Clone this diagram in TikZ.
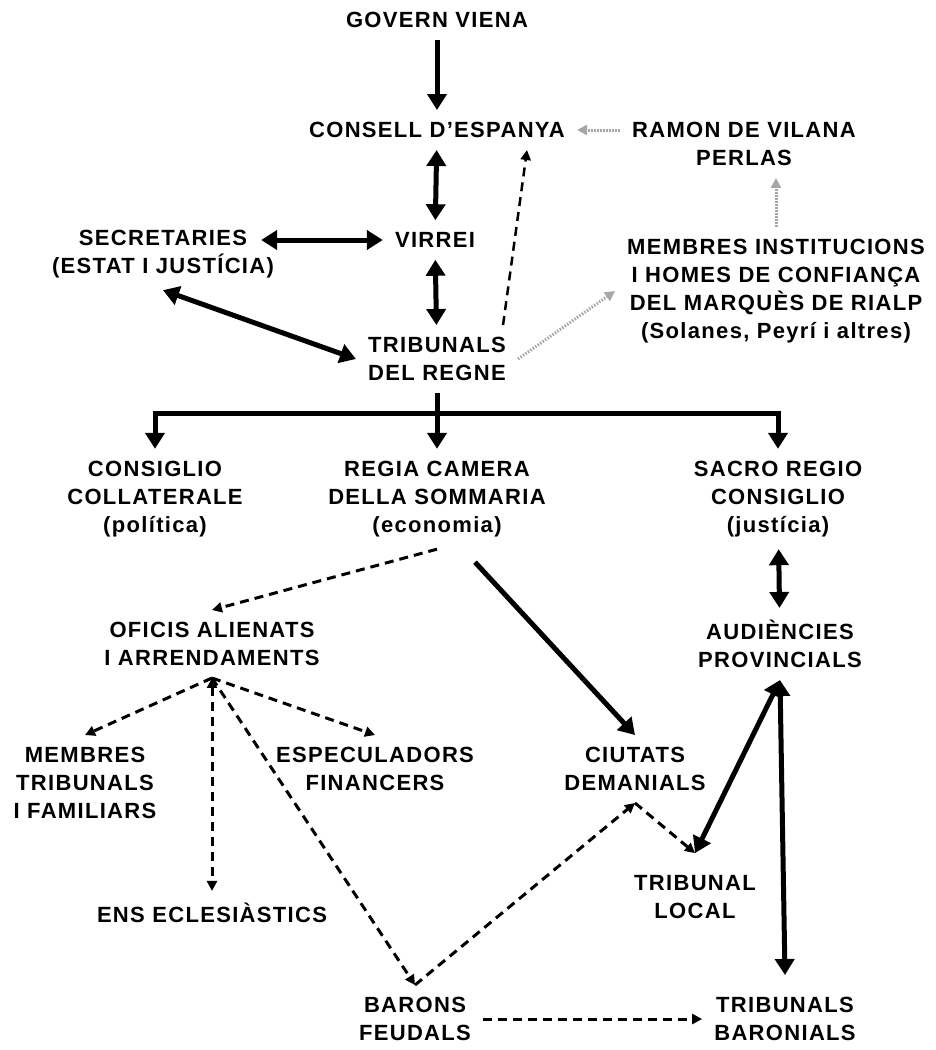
\documentclass[tikz,border=0pt]{standalone}
\usepackage{fontspec}
\setmainfont[LetterSpace=6]{Liberation Sans}
\usetikzlibrary{arrows.meta,calc}

\begin{document}
\begin{tikzpicture}[x=1pt,y=-1pt,
                    lbl/.style={align=center,inner sep=12pt,font=\fontsize{22}{28}\selectfont\bfseries},
                    gran/.tip={Triangle[length=16pt,width=19pt]},
                    petit/.tip={Triangle[length=10pt,width=10pt]},
                    fort/.style={line width=5pt,-gran},
                    fortdoble/.style={line width=5pt,gran-gran},
                    discont/.style={line width=3pt,dash pattern=on 9pt off 6pt,-petit},
                    puntejat/.style={color=gray!70,line width=3pt,dash pattern=on 1.5pt off 1.5pt,-petit}]
    \useasboundingbox (0,0) rectangle (935,1050);

    \node[lbl] (govern) at (437,20) {GOVERN VIENA};
    \node[lbl] (consell) at (437,130) {CONSELL D'ESPANYA};
    \node[lbl] (ramon) at (744,144) {RAMON DE VILANA\\PERLAS};
    \node[lbl] (virrei) at (435,240) {VIRREI};
    \node[lbl] (secretaries) at (163,254) {SECRETARIES\\(ESTAT I JUSTÍCIA)};
    \node[lbl] (membres) at (776,291) {MEMBRES INSTITUCIONS\\I HOMES DE CONFIANÇA\\DEL MARQUÈS DE RIALP\\(Solanes, Peyrí i altres)};
    \node[lbl] (tribunals) at (437,359) {TRIBUNALS\\DEL REGNE};
    \node[lbl] (collateral) at (155,499) {CONSIGLIO\\COLLATERALE\\(política)};
    \node[lbl] (sommaria) at (437,499) {REGIA CAMERA\\DELLA SOMMARIA\\(economia)};
    \node[lbl] (sacro) at (778,499) {SACRO REGIO\\CONSIGLIO\\(justícia)};
    \node[lbl] (oficis) at (212,644) {OFICIS ALIENATS\\I ARRENDAMENTS};
    \node[lbl] (audiencies) at (780,644) {AUDIÈNCIES\\PROVINCIALS};
    \node[lbl] (membrestrib) at (85,783) {MEMBRES\\TRIBUNALS\\I FAMILIARS};
    \node[lbl] (especuladors) at (375,769) {ESPECULADORS\\FINANCERS};
    \node[lbl] (ciutats) at (635,769) {CIUTATS\\DEMANIALS};
    \node[lbl] (ens) at (212,913) {ENS ECLESIÀSTICS};
    \node[lbl] (triblocal) at (695,897) {TRIBUNAL\\LOCAL};
    \node[lbl] (barons) at (415,1019) {BARONS\\FEUDALS};
    \node[lbl] (tribbaronials) at (785,1019) {TRIBUNALS\\BARONIALS};

    \draw[fort] (govern) -- (consell);
    \draw[fortdoble] (consell) -- (virrei);
    \draw[fortdoble] ($(virrei -| secretaries.east)+(-25,0)$) -- (virrei);
    \draw[fortdoble] (virrei) -- (tribunals);
    \draw[fortdoble] (secretaries.south) -- (tribunals.west);
    \draw[discont,line width=2.5pt] ([xshift=-15pt]tribunals.north east) -- ([xshift=90pt]consell.south);
    \draw[puntejat] (ramon.west |- consell) -- (consell.east);
    \draw[puntejat] (membres.north) -- (membres.north |- ramon.south);
    \draw[puntejat] (tribunals.east) -- (membres.west);

    \coordinate (forquilla) at (437,413);
    \draw[fort] (tribunals) -- (sommaria);
    \draw[fort] (forquilla) -| (collateral.north);
    \draw[fort] (forquilla) -| (sacro.north);

    \draw[discont] (sommaria.south) -- (oficis.north);
    \draw[fort] ([shift={(38,13)}]sommaria.south) -- (ciutats.north);
    \draw[fortdoble] (sacro) -- (audiencies);

    \foreach \n in {membrestrib,especuladors,barons}
        \draw[discont] (oficis.south) -- (\n.north);
    \draw[discont,petit-petit] (oficis.south) -- (ens.north);
    \draw[discont] (barons.north) -- (ciutats.south);
    \draw[discont] (ciutats.south) -- ([yshift=10pt]triblocal.north);
    \draw[fortdoble] (audiencies.south) -- ([yshift=10pt]triblocal.north);
    \draw[fortdoble] (audiencies.south) -- ([yshift=10pt]tribbaronials.north);
    \draw[discont] (barons.east) -- (barons.east -| tribbaronials.west);
\end{tikzpicture}
\end{document}
